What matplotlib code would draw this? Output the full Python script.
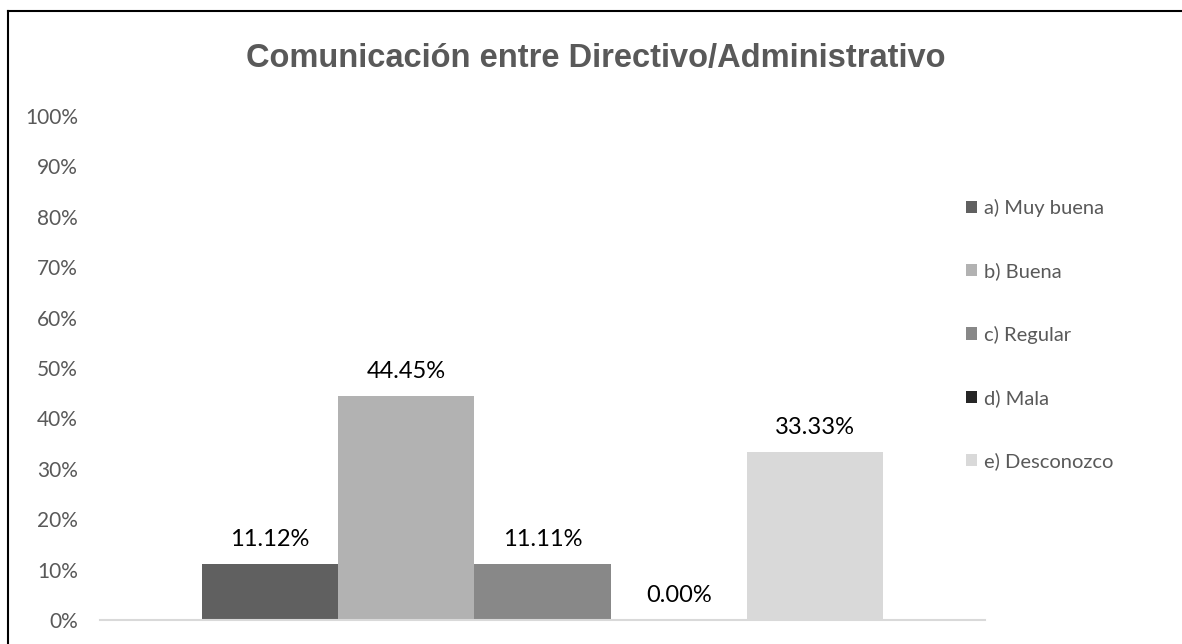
import matplotlib
matplotlib.use("Agg")
import matplotlib.pyplot as plt
from matplotlib.lines import Line2D
from matplotlib.patches import Patch
import numpy as np

title = "Comunicación entre Directivo/Administrativo"
series = ["a) Muy buena", "b) Buena", "c) Regular", "d) Mala", "e) Desconozco"]
values = [11.12, 44.45, 11.11, 0.00, 33.33]
colors = ["#606060", "#b2b2b2", "#888888", "#262626", "#d9d9d9"]
yticks = list(range(0, 101, 10))
ytick_labels = [f"{v}%" for v in yticks]

W, H = 1182, 644
fig = plt.figure(figsize=(W / 100, H / 100), dpi=100)
ax = fig.add_axes([100 / W, 1 - 620 / H, 885 / W, (620 - 116) / H])

x = np.arange(len(series))
for i, (s, v, c) in enumerate(zip(series, values, colors)):
    ax.bar(x[i], v, width=1.0, color=c, label=s)
    ax.annotate(f"{v:.2f}%", (x[i], v), xytext=(0, 10), textcoords="offset points",
                ha="center", va="bottom", fontsize=17, family="Lato", color="#000000")

ax.set_xlim(-0.5 - 0.75, 4.5 + 0.75)
ax.set_ylim(0, 100)
ax.set_yticks(yticks)
ax.set_yticklabels(ytick_labels, family="Lato", fontsize=15, color="#595959")
ax.tick_params(axis="y", length=0, pad=16)
ax.set_xticks([])
for sp in ["top", "right", "left"]:
    ax.spines[sp].set_visible(False)
ax.spines["bottom"].set_color("#d9d9d9")
ax.spines["bottom"].set_linewidth(1.5)

fig.text(596 / W, 1 - 58 / H, title, ha="center", va="center", fontsize=23.5,
         fontweight="bold", family="Liberation Sans", color="#595959")

handles = [Patch(facecolor=c, edgecolor="none") for c in colors]
leg = fig.legend(handles, series, loc="upper left", bbox_to_anchor=(966 / W, 1 - 199 / H),
                 frameon=False, prop={"family": "Lato", "size": 14.5},
                 handlelength=0.55, handleheight=0.55, handletextpad=0.35,
                 labelspacing=2.25, borderaxespad=0, borderpad=0)
for t in leg.get_texts():
    t.set_color("#595959")

fig.add_artist(Line2D([7.5 / W, 7.5 / W], [0, 1 - 11 / H], color="black", lw=1.5,
                      transform=fig.transFigure))
fig.add_artist(Line2D([7.5 / W, 1], [1 - 11 / H, 1 - 11 / H], color="black", lw=1.5,
                      transform=fig.transFigure))

fig.savefig("out.png", dpi=100, facecolor="white")
